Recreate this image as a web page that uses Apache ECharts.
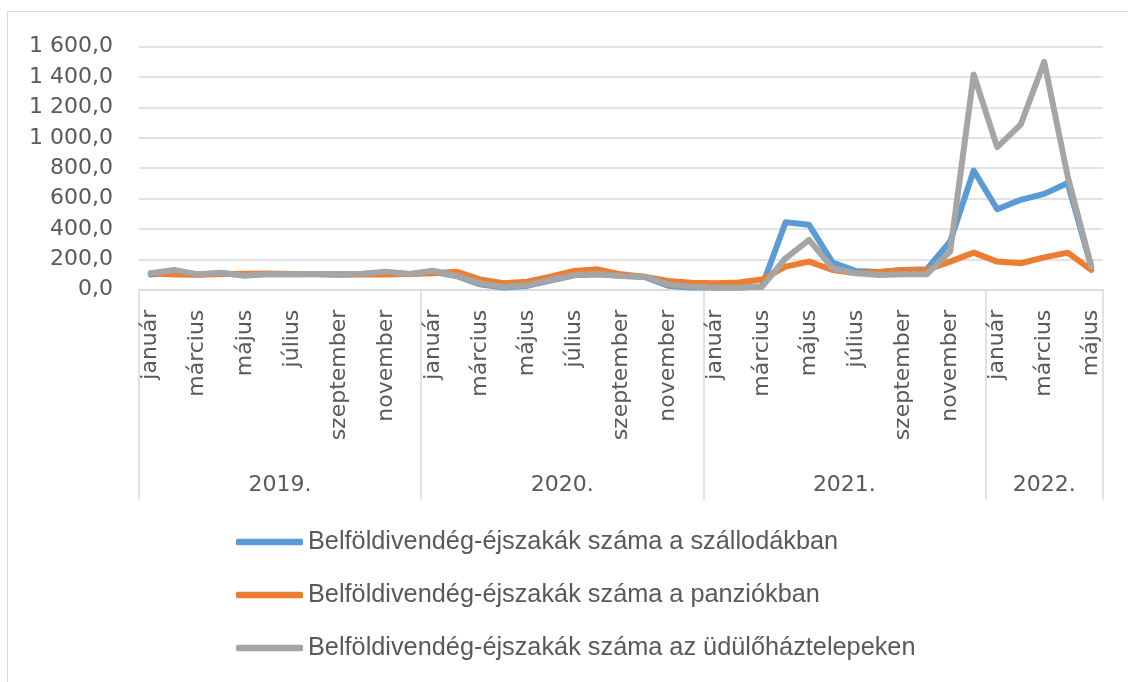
<!DOCTYPE html>
<html>
<head>
<meta charset="utf-8">
<script src="https://cdn.jsdelivr.net/npm/echarts@6/dist/echarts.min.js"></script>
<style>
  html, body { margin: 0; padding: 0; background: #fff; }
  #frame { position: absolute; left: 7px; top: 11px; width: 1300px; height: 900px; border: 1.5px solid #d9d9d9; }
  #chart { position: absolute; left: 0; top: 0; width: 1128px; height: 682px; }
</style>
</head>
<body>
<div id="frame"></div>
<div id="chart"></div>
<script>
// honapok es evek
var monthNames = ['január','február','március','április','május','június','július','augusztus','szeptember','október','november','december'];
var yearLabels = ['2019.','2020.','2021.','2022.'];
var monthsPerYear = [12, 12, 12, 5];

var yTicks = [0, 200, 400, 600, 800, 1000, 1200, 1400, 1600];

// Belföldivendég-éjszakák (2019 jan - 2022 maj)
var szallodak = [
  100, 118, 100, 108, 96, 104, 102, 101, 99, 104, 114, 102,
  118, 90, 35, 14, 25, 60, 95, 102, 92, 84, 26, 15,
  14, 14, 22, 444, 427, 178, 123, 117, 130, 134, 317, 785,
  530, 592, 631, 702, 152
];
var panziok = [
  108, 100, 98, 104, 105, 106, 104, 103, 102, 100, 100, 104,
  108, 119, 68, 42, 53, 86, 123, 134, 101, 86, 57, 46,
  42, 48, 68, 152, 185, 130, 108, 117, 130, 130, 185, 244,
  185, 174, 213, 244, 130
];
var udulohaz = [
  108, 130, 101, 112, 92, 103, 101, 103, 103, 105, 119, 103,
  125, 92, 42, 20, 29, 64, 97, 103, 90, 86, 35, 20,
  15, 15, 20, 207, 328, 141, 108, 97, 101, 101, 251, 1417,
  939, 1087, 1500, 746, 152
];

var seriesNames = [
  'Belföldivendég-éjszakák száma a szállodákban',
  'Belföldivendég-éjszakák száma a panziókban',
  'Belföldivendég-éjszakák száma az üdülőháztelepeken'
];
var colors = ['#5B9BD5', '#ED7D31', '#A5A5A5'];

// kategoriak felepitese
var monthCats = [];
var yearCats = [];
var yearStart = [];
var yearLabelAt = {};
monthsPerYear.forEach(function (n, y) {
  yearStart.push(monthCats.length);
  var mid = monthCats.length + Math.floor(n / 2);
  yearLabelAt[mid] = { text: yearLabels[y], even: n % 2 === 0 };
  for (var m = 0; m < n; m++) {
    monthCats.push(monthNames[m]);
    yearCats.push(yearLabels[y] + m);
  }
});

var gridLeft = 139, gridRight = 25;
var band = (1128 - gridLeft - gridRight) / monthCats.length;

function fmtNum(v) {
  return v.toFixed(1).replace('.', ',').replace(/\B(?=(\d{3})+(?!\d))/g, ' ');
}

var myChart = echarts.init(document.getElementById('chart'));
var option = {
  backgroundColor: 'transparent',
  animation: false,
  color: colors,
  grid: { left: gridLeft, right: gridRight, top: 46.7, bottom: 392.3, containLabel: false },
  legend: {
    orient: 'vertical',
    left: 231,
    top: 524,
    itemWidth: 67,
    itemHeight: 6.5,
    itemGap: 27,
    icon: 'roundRect',
    textStyle: { color: '#595959', fontSize: 25.3, lineHeight: 26, fontFamily: "'Liberation Sans Narrow', 'Liberation Sans', sans-serif" },
    data: seriesNames
  },
  xAxis: [
    {
      type: 'category',
      data: monthCats,
      boundaryGap: true,
      axisLine: { show: true, lineStyle: { color: '#d9d9d9', width: 1.5 } },
      axisTick: { show: false },
      axisLabel: {
        interval: 1,
        rotate: 90,
        margin: 20,
        color: '#595959',
        fontSize: 22,
        fontFamily: "'DejaVu Sans', sans-serif"
      }
    },
    {
      type: 'category',
      data: yearCats,
      position: 'bottom',
      boundaryGap: true,
      axisLine: { show: false },
      axisTick: {
        show: true,
        inside: false,
        length: 210,
        interval: function (index) { return yearStart.indexOf(index) >= 0; },
        lineStyle: { color: '#d9d9d9', width: 1.5 }
      },
      axisLabel: {
        interval: 0,
        margin: 185,
        color: '#595959',
        fontSize: 22,
        fontFamily: "'DejaVu Sans', sans-serif",
        formatter: function (value, index) {
          var l = yearLabelAt[index];
          if (!l) return '';
          return l.even ? '{e|' + l.text + '}' : l.text;
        },
        rich: {
          e: { padding: [0, band, 0, 0], color: '#595959', fontSize: 22, fontFamily: "'DejaVu Sans', sans-serif" }
        }
      }
    }
  ],
  yAxis: {
    type: 'value',
    min: yTicks[0],
    max: yTicks[yTicks.length - 1],
    interval: yTicks[1] - yTicks[0],
    axisLine: { show: false },
    axisTick: { show: false },
    splitLine: { lineStyle: { color: '#d9d9d9', width: 1.5 } },
    axisLabel: {
      margin: 26,
      color: '#595959',
      fontSize: 22,
      fontFamily: "'DejaVu Sans', sans-serif",
      formatter: fmtNum
    }
  },
  series: [szallodak, panziok, udulohaz].map(function (d, i) {
    return {
      name: seriesNames[i],
      type: 'line',
      data: d,
      symbol: 'none',
      lineStyle: { width: 6, color: colors[i], cap: 'round', join: 'round' }
    };
  })
};
myChart.setOption(option);
</script>
</body>
</html>
